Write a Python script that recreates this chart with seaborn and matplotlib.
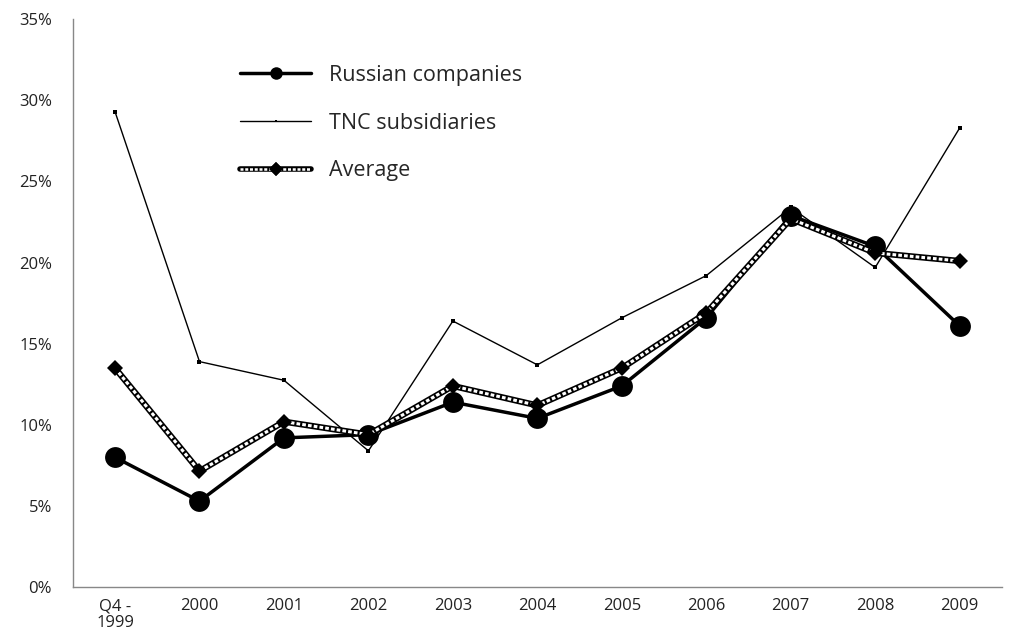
import matplotlib
matplotlib.use("Agg")
import matplotlib.pyplot as plt
import matplotlib.ticker as mticker
from matplotlib.lines import Line2D
import numpy as np
import pandas as pd
import seaborn as sns

categories = ["Q4 -\n1999", "2000", "2001", "2002", "2003", "2004",
              "2005", "2006", "2007", "2008", "2009"]
russian = [8.0, 5.3, 9.2, 9.4, 11.4, 10.4, 12.4, 16.6, 22.9, 21.0, 16.1]
tnc = [29.3, 13.9, 12.75, 8.4, 16.4, 13.7, 16.6, 19.2, 23.4, 19.7, 28.3]
average = [13.5, 7.15, 10.2, 9.4, 12.4, 11.2, 13.5, 16.9, 22.7, 20.6, 20.1]

sns.set_style("white")
plt.rcParams["font.family"] = ["Open Sans", "DejaVu Sans"]

df = pd.DataFrame({
    "pos": np.arange(len(categories)),
    "Russian companies": russian,
    "TNC subsidiaries": tnc,
    "Average": average,
})

fig = plt.figure(figsize=(10.11, 6.41), dpi=100)
ax = fig.add_axes([0.072, 0.084, 0.919, 0.886])

# Russian companies: thick line, big dots
sns.lineplot(data=df, x="pos", y="Russian companies", ax=ax, color="black",
             linewidth=2.5, marker="o", markersize=15, markeredgewidth=0,
             zorder=3)
# TNC subsidiaries: thin line, tiny squares
sns.lineplot(data=df, x="pos", y="TNC subsidiaries", ax=ax, color="black",
             linewidth=1.0, marker="s", markersize=3, markeredgewidth=0,
             zorder=2)
# Average: hollow chain line with diamonds
sns.lineplot(data=df, x="pos", y="Average", ax=ax, color="black",
             linewidth=4.5, zorder=4)
sns.lineplot(data=df, x="pos", y="Average", ax=ax, color="white",
             linewidth=2.2, linestyle=(0, (1.2, 0.7)), zorder=5)
ax.plot(df["pos"], df["Average"], linestyle="none", marker="D", markersize=8,
        color="black", markeredgewidth=0, zorder=6)

ax.set_xlim(-0.5, len(categories) - 0.5)
ax.set_ylim(0, 35)
ax.set_xticks(df["pos"])
ax.set_xticklabels(categories, fontsize=12, color="#222222", linespacing=1.1)
ax.set_xticks(np.arange(-0.5, len(categories)), minor=True)
ax.tick_params(axis="x", which="major", length=0, pad=8)
ax.tick_params(axis="x", which="minor", length=5, direction="out", color="#888888")
ax.yaxis.set_major_locator(mticker.MultipleLocator(5))
ax.yaxis.set_major_formatter(mticker.FuncFormatter(lambda v, p: f"{v:.0f}%"))
ax.tick_params(axis="y", length=5, direction="out", color="#888888",
               labelsize=12, labelcolor="#222222", pad=10)
ax.set_xlabel("")
ax.set_ylabel("")
for s in ["top", "right"]:
    ax.spines[s].set_visible(False)
for s in ["left", "bottom"]:
    ax.spines[s].set_color("#888888")
    ax.spines[s].set_linewidth(1.0)

# legend with custom handles for the average line
h_rus = Line2D([], [], color="black", linewidth=2.5, marker="o", markersize=9,
               markeredgewidth=0)
h_tnc = Line2D([], [], color="black", linewidth=1.0, marker="s", markersize=2,
               markeredgewidth=0)
h_avg_base = Line2D([], [], color="black", linewidth=4, marker="D", markersize=7,
                    markeredgewidth=0)
h_avg_top = Line2D([], [], color="white", linewidth=1.8, linestyle=(0, (1.2, 0.7)))
h_avg_mark = Line2D([], [], color="black", linestyle="none", marker="D",
                    markersize=7, markeredgewidth=0)
ax.legend([h_rus, h_tnc, (h_avg_base, h_avg_top, h_avg_mark)],
          ["Russian companies", "TNC subsidiaries", "Average"],
          loc="upper left", bbox_to_anchor=(0.18, 0.92), frameon=False,
          borderpad=0, borderaxespad=0,
          fontsize=15.5, handlelength=3.3, labelspacing=1.25, handletextpad=0.85)

fig.savefig("out.png", dpi=100, facecolor="white")
